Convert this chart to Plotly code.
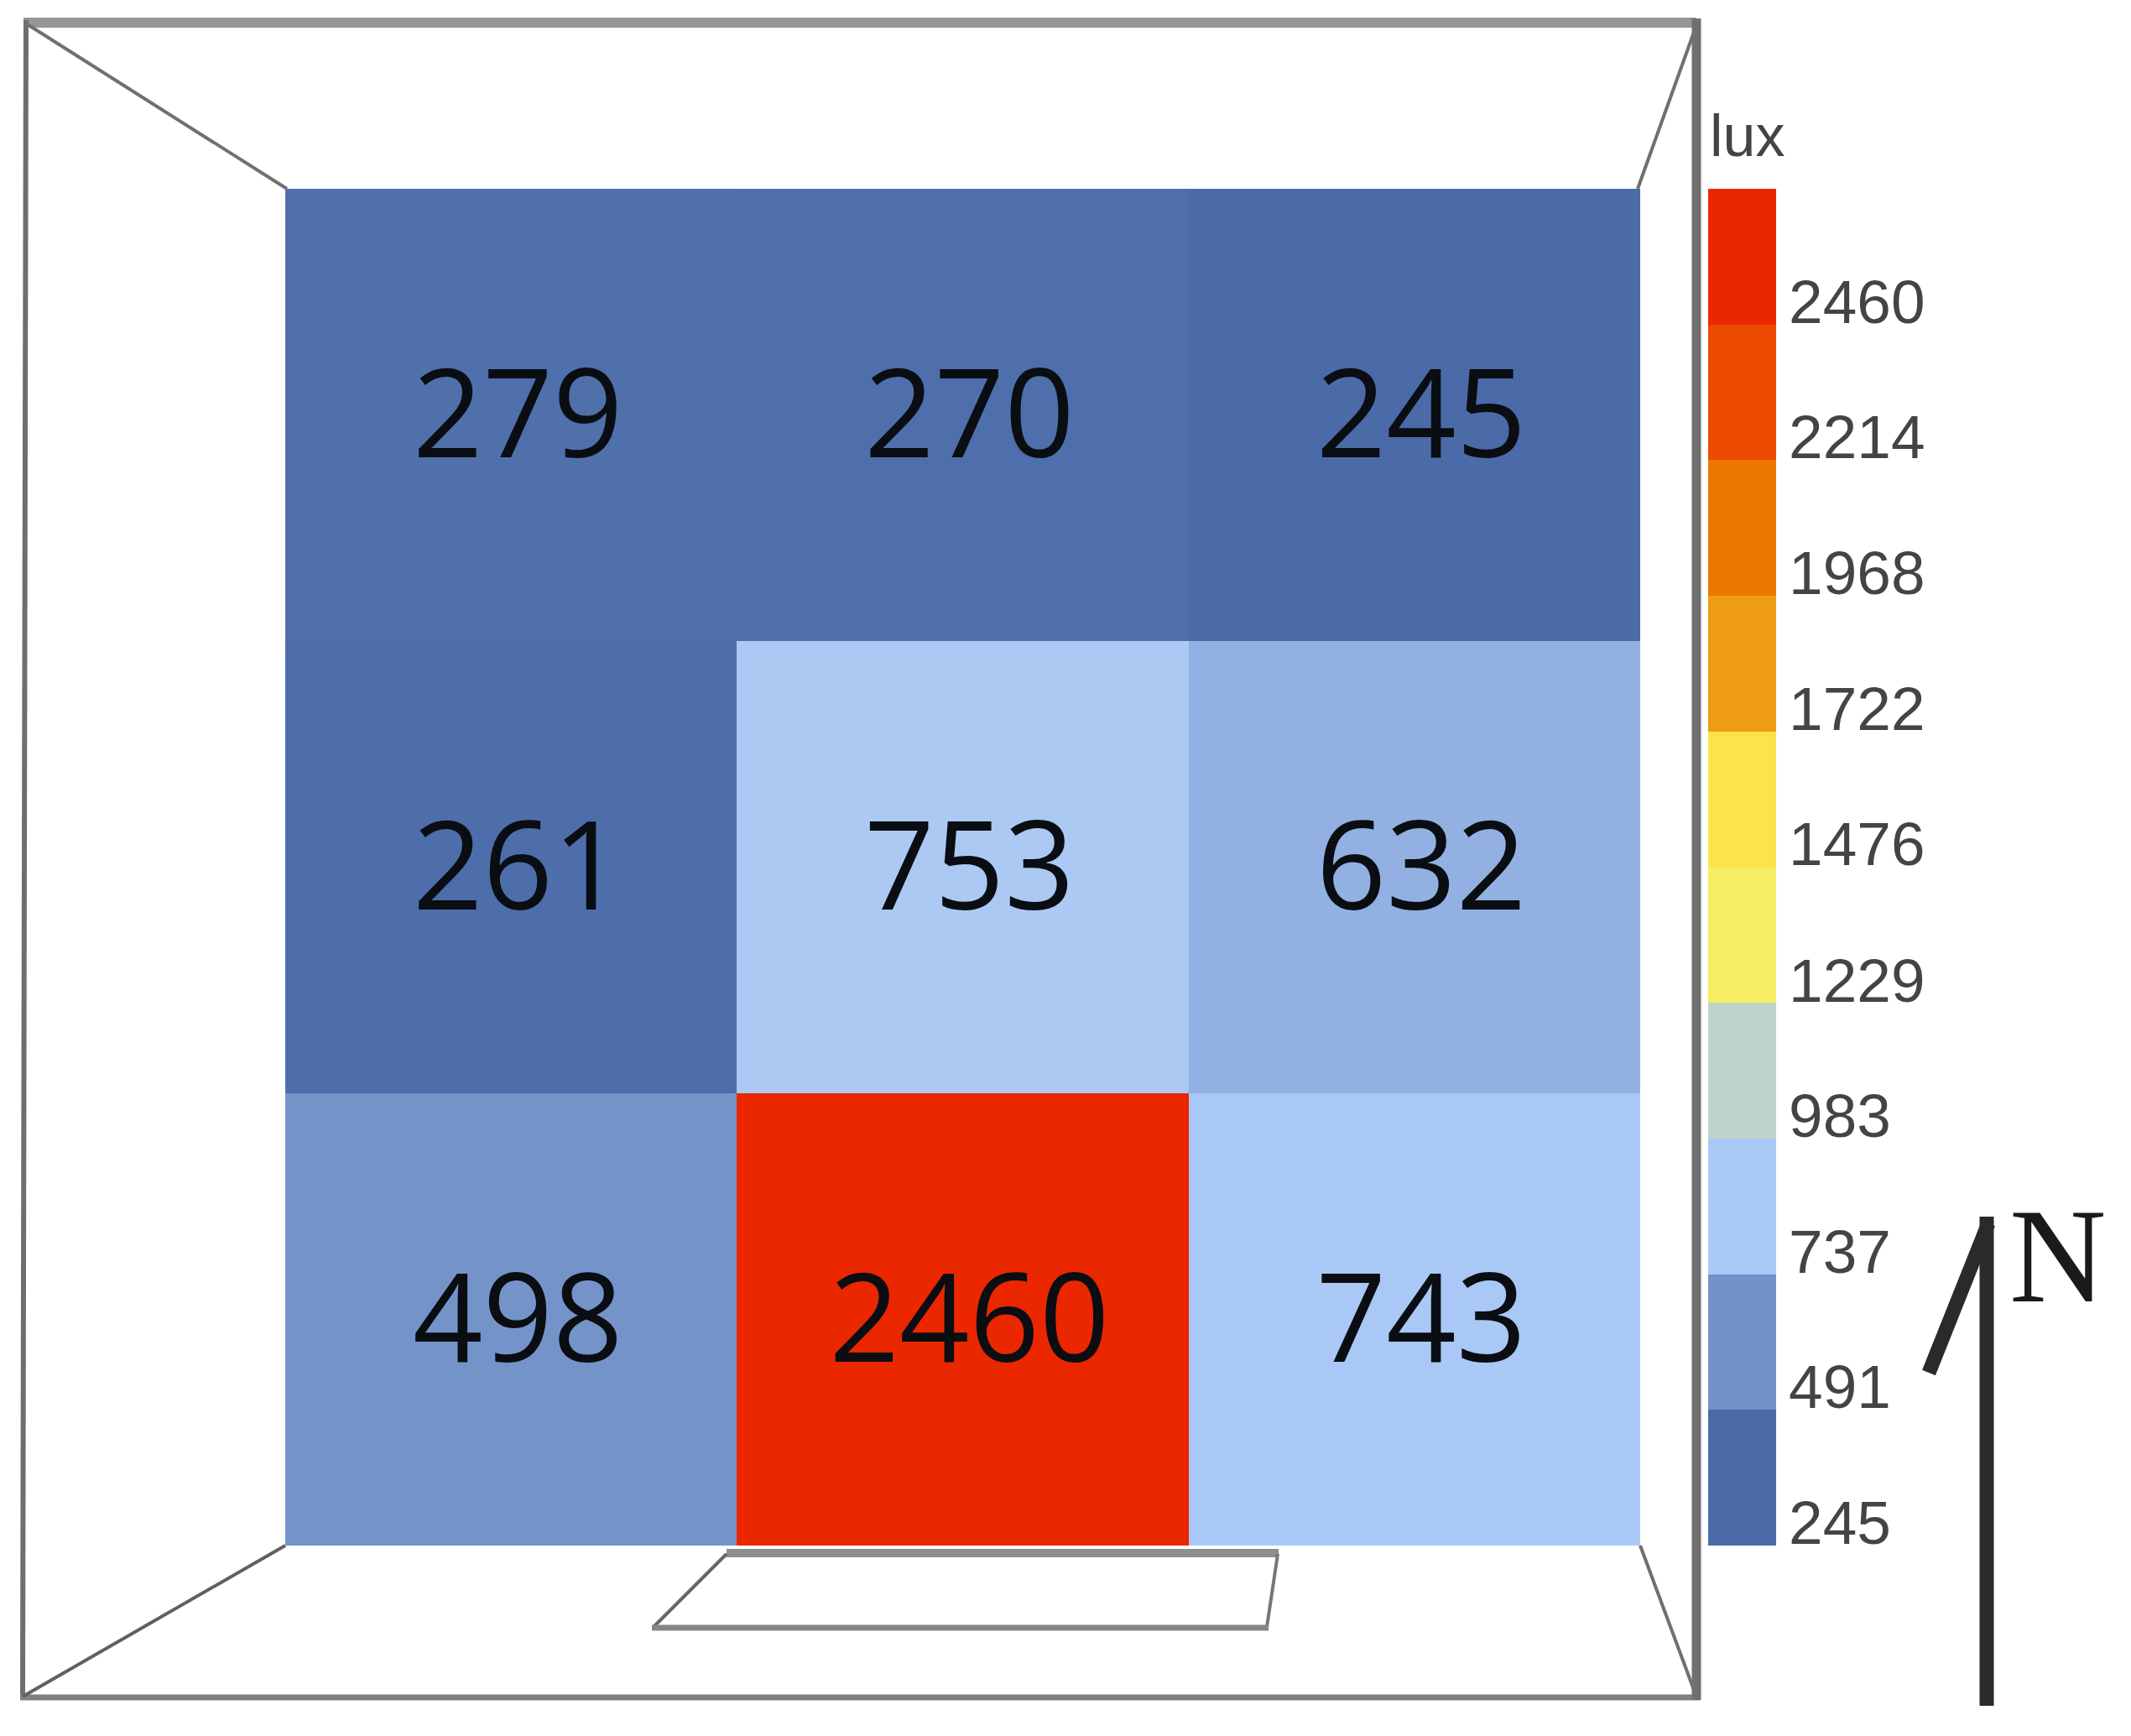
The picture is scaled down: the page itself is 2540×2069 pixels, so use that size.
import plotly.graph_objects as go

W, H = 2540, 2069
PAGE_MARGIN = 8  # the page body offsets the figure by this many pixels
LABEL_NUDGE_X, LABEL_NUDGE_Y = 0.015, 0.026  # cell labels sit slightly off centre

# Data
columns = [0, 1, 2]
rows = [0, 1, 2]
lux_top = [279, 270, 245]
lux_middle = [261, 753, 632]
lux_bottom = [498, 2460, 743]
tick_values = [245, 491, 737, 983, 1229, 1476, 1722, 1968, 2214, 2460]
tick_colors = ["#4A6BA8", "#7292C8", "#AAC8F6", "#BED2CB", "#F5EE63",
               "#FDE34A", "#EE9C12", "#EB7600", "#EB4A00", "#EB2700"]


def px(x):
    return (x - PAGE_MARGIN) / W


def py(y):
    return 1 - (y - PAGE_MARGIN) / H


# Heatmap colours blend between the legend stops
zmin, zmax = tick_values[0], tick_values[-1]
cell_scale = [[(v - zmin) / (zmax - zmin), c] for v, c in zip(tick_values, tick_colors)]

# Legend shows the same stops as flat bands
band = (tick_values[-1] - tick_values[0]) / (len(tick_values) - 1)
cbar_min = tick_values[0] - 0.17 * band
cbar_max = cbar_min + band * len(tick_values)
band_scale = []
for i, c in enumerate(tick_colors):
    band_scale.append([i / len(tick_colors), c])
    band_scale.append([(i + 1) / len(tick_colors), c])

grid = [lux_top, lux_middle, lux_bottom]

fig = go.Figure()

fig.add_trace(go.Heatmap(
    x=columns, y=rows, z=grid,
    zmin=zmin, zmax=zmax, colorscale=cell_scale, showscale=False,
    hoverinfo="skip",
))

fig.add_trace(go.Scatter(
    x=[c + LABEL_NUDGE_X for r in rows for c in columns],
    y=[r + LABEL_NUDGE_Y for r in rows for c in columns],
    text=[str(grid[r][c]) for r in rows for c in columns],
    mode="text", textposition="middle center", showlegend=False, hoverinfo="skip",
    textfont=dict(family="Open Sans", size=146, color="#0A0D12"),
))

fig.add_trace(go.Scatter(
    x=[columns[1]] * len(tick_values), y=[rows[1]] * len(tick_values),
    mode="markers", showlegend=False, hoverinfo="skip",
    marker=dict(
        color=tick_values, cmin=cbar_min, cmax=cbar_max, colorscale=band_scale,
        size=1, opacity=0, showscale=True,
        colorbar=dict(
            x=px(2036), xanchor="left", xpad=0,
            y=py(225), yanchor="top", ypad=0,
            len=1617 / H, lenmode="fraction",
            thickness=81, thicknessmode="pixels",
            outlinewidth=0, borderwidth=0,
            tickmode="array", tickvals=tick_values,
            ticktext=[str(v) for v in tick_values],
            ticks="outside", ticklen=1, tickcolor="rgba(0,0,0,0)",
            tickfont=dict(family="Liberation Sans", size=73, color="#444444"),
        ),
    ),
))


def seg(x0, y0, x1, y1, color, width):
    return dict(type="line", xref="paper", yref="paper",
                x0=px(x0), y0=py(y0), x1=px(x1), y1=py(y1),
                line=dict(color=color, width=width))


shapes = [
    # room outline
    seg(28, 27, 2022, 27, "#969696", 12),
    seg(31, 24, 27, 2024, "#6E6E6E", 6),
    seg(24, 2023, 2026, 2023, "#808080", 7),
    seg(2022, 22, 2022, 2026, "#707070", 11),
    # corner lines
    seg(31, 28, 342, 225, "#707070", 4),
    seg(2022, 30, 1952, 225, "#707070", 4),
    seg(27, 2022, 340, 1842, "#606060", 4),
    seg(1955, 1842, 2022, 2022, "#707070", 4),
    # door
    seg(866, 1851, 1524, 1851, "#8C8F8E", 10),
    seg(866, 1852, 779, 1939, "#666666", 4),
    seg(1523, 1852, 1510, 1939, "#777777", 4),
    seg(777, 1940, 1512, 1940, "#858585", 7),
    # north arrow
    seg(2368, 1450, 2368, 2033, "#2A2A2A", 17),
    seg(2370, 1458, 2299, 1636, "#2A2A2A", 17),
]

annotations = [
    dict(text="lux", xref="paper", yref="paper", x=px(2036), y=py(162),
         xanchor="left", yanchor="middle", showarrow=False,
         font=dict(family="Liberation Sans", size=70, color="#444444")),
    dict(text="N", xref="paper", yref="paper", x=px(2453), y=py(1497),
         xanchor="center", yanchor="middle", showarrow=False,
         font=dict(family="Liberation Serif", size=160, color="#1A1A1A")),
]

fig.update_layout(
    width=W, height=H,
    margin=dict(l=0, r=0, t=0, b=0, autoexpand=False),
    paper_bgcolor="white", plot_bgcolor="white",
    xaxis=dict(domain=[px(340), px(1955)], range=[-0.5, 2.5], visible=False, fixedrange=True),
    yaxis=dict(domain=[py(1842), py(225)], range=[2.5, -0.5], visible=False, fixedrange=True),
    shapes=shapes, annotations=annotations,
)

fig.write_html("out.html")
